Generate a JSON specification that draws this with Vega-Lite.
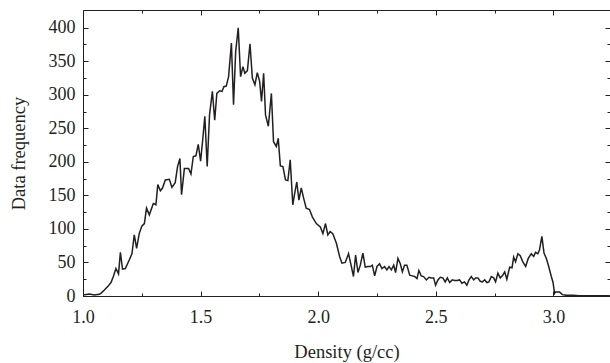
{
  "$schema": "https://vega.github.io/schema/vega-lite/v6.json",
  "width": 527,
  "height": 286,
  "autosize": {"type": "none"},
  "padding": {"left": 83, "top": 10, "right": 0, "bottom": 67},
  "background": "white",
  "config": {
    "view": {"stroke": null},
    "font": "Liberation Serif",
    "axis": {
      "domainColor": "#231f20",
      "domainWidth": 1,
      "tickColor": "#231f20",
      "tickWidth": 1,
      "labelColor": "#231f20",
      "titleColor": "#231f20",
      "labelFont": "Liberation Serif",
      "titleFont": "Liberation Serif",
      "labelFontSize": 18,
      "titleFontSize": 18.5,
      "titleFontWeight": "normal",
      "grid": false,
      "labelOverlap": false
    }
  },
  "data": {
    "values": [
      {"d": 1.0, "f": 1.5}, {"d": 1.027, "f": 3}, {"d": 1.048, "f": 1.5}, {"d": 1.069, "f": 2.5}, {"d": 1.076, "f": 4},
      {"d": 1.091, "f": 9}, {"d": 1.105, "f": 14}, {"d": 1.119, "f": 20}, {"d": 1.129, "f": 29}, {"d": 1.14, "f": 41},
      {"d": 1.151, "f": 33}, {"d": 1.159, "f": 65}, {"d": 1.168, "f": 40}, {"d": 1.18, "f": 41}, {"d": 1.197, "f": 54},
      {"d": 1.208, "f": 63}, {"d": 1.218, "f": 91}, {"d": 1.228, "f": 71}, {"d": 1.239, "f": 93}, {"d": 1.25, "f": 104},
      {"d": 1.261, "f": 108}, {"d": 1.27, "f": 131}, {"d": 1.282, "f": 121}, {"d": 1.299, "f": 138}, {"d": 1.31, "f": 136},
      {"d": 1.318, "f": 166}, {"d": 1.329, "f": 157}, {"d": 1.338, "f": 161}, {"d": 1.35, "f": 173}, {"d": 1.367, "f": 174},
      {"d": 1.378, "f": 162}, {"d": 1.392, "f": 169}, {"d": 1.402, "f": 193}, {"d": 1.412, "f": 205}, {"d": 1.419, "f": 151},
      {"d": 1.431, "f": 190}, {"d": 1.449, "f": 190}, {"d": 1.459, "f": 182}, {"d": 1.469, "f": 208}, {"d": 1.48, "f": 209},
      {"d": 1.49, "f": 226}, {"d": 1.5, "f": 201}, {"d": 1.509, "f": 233}, {"d": 1.518, "f": 268}, {"d": 1.528, "f": 193},
      {"d": 1.538, "f": 270}, {"d": 1.55, "f": 305}, {"d": 1.56, "f": 262}, {"d": 1.569, "f": 302}, {"d": 1.581, "f": 306},
      {"d": 1.591, "f": 305}, {"d": 1.599, "f": 312}, {"d": 1.609, "f": 313}, {"d": 1.619, "f": 327}, {"d": 1.631, "f": 377},
      {"d": 1.64, "f": 285}, {"d": 1.649, "f": 364}, {"d": 1.66, "f": 400}, {"d": 1.67, "f": 327}, {"d": 1.68, "f": 342},
      {"d": 1.688, "f": 332}, {"d": 1.699, "f": 336}, {"d": 1.71, "f": 376}, {"d": 1.72, "f": 325}, {"d": 1.731, "f": 315},
      {"d": 1.741, "f": 333}, {"d": 1.751, "f": 320}, {"d": 1.759, "f": 290}, {"d": 1.768, "f": 332}, {"d": 1.776, "f": 270},
      {"d": 1.788, "f": 253}, {"d": 1.801, "f": 302}, {"d": 1.81, "f": 230}, {"d": 1.822, "f": 223}, {"d": 1.83, "f": 235},
      {"d": 1.839, "f": 194}, {"d": 1.85, "f": 193}, {"d": 1.861, "f": 173}, {"d": 1.871, "f": 172}, {"d": 1.881, "f": 203},
      {"d": 1.892, "f": 136}, {"d": 1.9, "f": 153}, {"d": 1.909, "f": 170}, {"d": 1.918, "f": 143}, {"d": 1.928, "f": 161},
      {"d": 1.938, "f": 146}, {"d": 1.949, "f": 131}, {"d": 1.963, "f": 129}, {"d": 1.975, "f": 118}, {"d": 1.992, "f": 108},
      {"d": 2.009, "f": 103}, {"d": 2.02, "f": 93}, {"d": 2.031, "f": 108}, {"d": 2.041, "f": 91}, {"d": 2.051, "f": 96},
      {"d": 2.062, "f": 93}, {"d": 2.077, "f": 79}, {"d": 2.091, "f": 59}, {"d": 2.101, "f": 49}, {"d": 2.115, "f": 50},
      {"d": 2.129, "f": 63}, {"d": 2.141, "f": 44}, {"d": 2.15, "f": 29}, {"d": 2.159, "f": 61}, {"d": 2.169, "f": 35},
      {"d": 2.179, "f": 46}, {"d": 2.19, "f": 64}, {"d": 2.2, "f": 43}, {"d": 2.211, "f": 44}, {"d": 2.222, "f": 44},
      {"d": 2.23, "f": 46}, {"d": 2.24, "f": 30}, {"d": 2.25, "f": 44}, {"d": 2.261, "f": 48}, {"d": 2.271, "f": 41},
      {"d": 2.282, "f": 44}, {"d": 2.292, "f": 39}, {"d": 2.301, "f": 44}, {"d": 2.311, "f": 39}, {"d": 2.321, "f": 46},
      {"d": 2.329, "f": 35}, {"d": 2.339, "f": 56}, {"d": 2.349, "f": 48}, {"d": 2.358, "f": 36}, {"d": 2.367, "f": 46},
      {"d": 2.377, "f": 46}, {"d": 2.389, "f": 31}, {"d": 2.4, "f": 30}, {"d": 2.41, "f": 29}, {"d": 2.42, "f": 26},
      {"d": 2.428, "f": 38}, {"d": 2.438, "f": 30}, {"d": 2.448, "f": 29}, {"d": 2.46, "f": 24}, {"d": 2.471, "f": 28},
      {"d": 2.481, "f": 27}, {"d": 2.491, "f": 27}, {"d": 2.499, "f": 16}, {"d": 2.509, "f": 24}, {"d": 2.519, "f": 28},
      {"d": 2.53, "f": 27}, {"d": 2.54, "f": 21}, {"d": 2.549, "f": 27}, {"d": 2.559, "f": 20}, {"d": 2.57, "f": 24},
      {"d": 2.58, "f": 23}, {"d": 2.59, "f": 23}, {"d": 2.601, "f": 24}, {"d": 2.611, "f": 19}, {"d": 2.622, "f": 21},
      {"d": 2.632, "f": 16}, {"d": 2.641, "f": 24}, {"d": 2.651, "f": 29}, {"d": 2.661, "f": 24}, {"d": 2.669, "f": 27},
      {"d": 2.679, "f": 27}, {"d": 2.689, "f": 22}, {"d": 2.698, "f": 21}, {"d": 2.708, "f": 24}, {"d": 2.717, "f": 20},
      {"d": 2.726, "f": 21}, {"d": 2.736, "f": 29}, {"d": 2.746, "f": 27}, {"d": 2.754, "f": 21}, {"d": 2.764, "f": 34},
      {"d": 2.774, "f": 27}, {"d": 2.783, "f": 30}, {"d": 2.793, "f": 36}, {"d": 2.802, "f": 25}, {"d": 2.814, "f": 43},
      {"d": 2.824, "f": 42}, {"d": 2.831, "f": 58}, {"d": 2.839, "f": 51}, {"d": 2.849, "f": 63}, {"d": 2.859, "f": 60},
      {"d": 2.87, "f": 51}, {"d": 2.882, "f": 44}, {"d": 2.893, "f": 56}, {"d": 2.906, "f": 63}, {"d": 2.916, "f": 59},
      {"d": 2.924, "f": 65}, {"d": 2.934, "f": 63}, {"d": 2.941, "f": 69}, {"d": 2.951, "f": 89}, {"d": 2.96, "f": 64},
      {"d": 2.97, "f": 56}, {"d": 2.98, "f": 44}, {"d": 2.991, "f": 29}, {"d": 2.998, "f": 21}, {"d": 3.005, "f": 4},
      {"d": 3.009, "f": 6}, {"d": 3.026, "f": 6}, {"d": 3.038, "f": 2}, {"d": 3.055, "f": 1}, {"d": 3.083, "f": 1},
      {"d": 3.111, "f": 0.5}, {"d": 3.24, "f": 0.5}
    ]
  },
  "layer": [
    {
      "mark": {"type": "line", "color": "#231f20", "strokeWidth": 1.5, "clip": true, "strokeJoin": "miter"},
      "encoding": {
        "x": {
          "field": "d", "type": "quantitative",
          "scale": {"domain": [1, 3.2406], "nice": false, "zero": false},
          "axis": {
            "orient": "bottom",
            "title": "Density (g/cc)",
            "values": [1, 1.25, 1.5, 1.75, 2, 2.25, 2.5, 2.75, 3],
            "format": ".1f",
            "labelExpr": "datum.value % 0.5 == 0 ? datum.label : ''",
            "tickSize": {"condition": {"test": "datum.value % 0.5 == 0", "value": -5}, "value": -3},
            "labelPadding": 17,
            "titlePadding": 14,
            "labelFlush": false
          }
        },
        "y": {
          "field": "f", "type": "quantitative",
          "scale": {"domain": [0, 426.4], "nice": false},
          "axis": {
            "orient": "left",
            "title": "Data frequency",
            "values": [0, 25, 50, 75, 100, 125, 150, 175, 200, 225, 250, 275, 300, 325, 350, 375, 400],
            "labelExpr": "datum.value % 50 == 0 ? datum.label : ''",
            "tickSize": {"condition": {"test": "datum.value % 50 == 0", "value": -5}, "value": -3},
            "labelPadding": 13,
            "titlePadding": 20,
            "labelFlush": false
          }
        }
      }
    },
    {
      "mark": {"type": "line", "opacity": 0},
      "encoding": {
        "x": {
          "field": "d", "type": "quantitative",
          "axis": {
            "orient": "top",
            "title": null,
            "labels": false,
            "values": [1, 1.25, 1.5, 1.75, 2, 2.25, 2.5, 2.75, 3],
            "tickSize": {"condition": {"test": "datum.value % 0.5 == 0", "value": -5}, "value": -3}
          }
        },
        "y": {
          "field": "f", "type": "quantitative",
          "axis": {
            "orient": "right",
            "title": null,
            "labels": false,
            "domain": false,
            "values": [0, 25, 50, 75, 100, 125, 150, 175, 200, 225, 250, 275, 300, 325, 350, 375, 400],
            "tickSize": {"condition": {"test": "datum.value % 50 == 0", "value": -5}, "value": -3}
          }
        }
      }
    }
  ],
  "resolve": {"axis": {"x": "independent", "y": "independent"}}
}
